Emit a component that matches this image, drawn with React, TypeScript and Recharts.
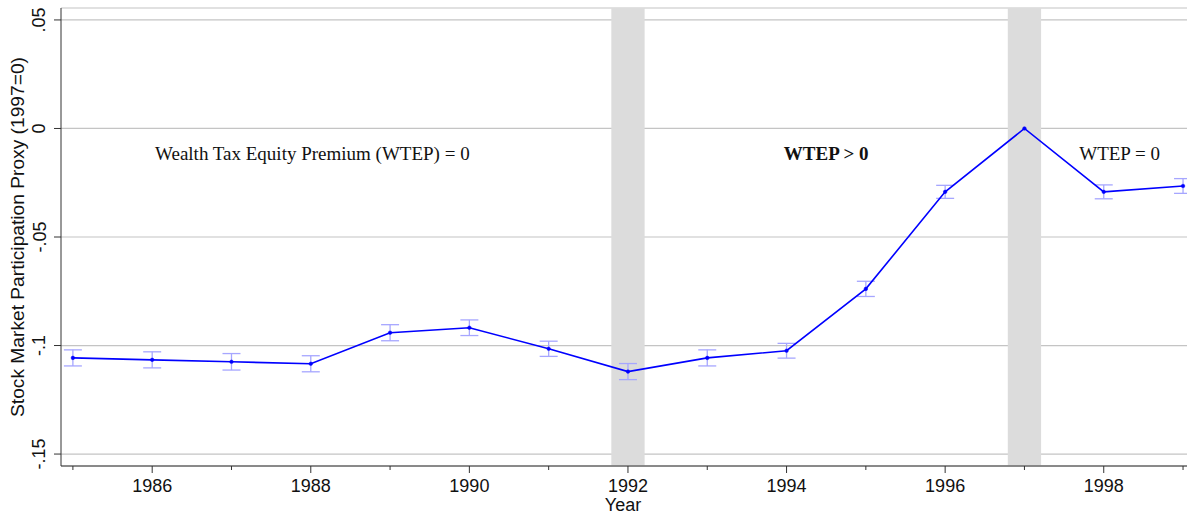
import React from 'react';
import {
  ComposedChart, Line, XAxis, YAxis, CartesianGrid, ReferenceArea, ReferenceDot, ErrorBar,
} from 'recharts';

document.body.style.margin = '0';

const years = [1985, 1986, 1987, 1988, 1989, 1990, 1991, 1992, 1993, 1994, 1995, 1996, 1997, 1998, 1999];
const proxy = [-0.1057, -0.1066, -0.1075, -0.1084, -0.0941, -0.0918, -0.1015, -0.112, -0.1057, -0.1024, -0.0739, -0.0292, 0, -0.0292, -0.0265];
const ciHalf = [0.0037, 0.0037, 0.0038, 0.0037, 0.0037, 0.0036, 0.0035, 0.0037, 0.0037, 0.0034, 0.0035, 0.003, 0, 0.0032, 0.0034];

const yTicks = [-0.15, -0.1, -0.05, 0, 0.05];
const yTickLabels = ['-.15', '-.1', '-.05', '0', '.05'];
const xTicks = years;
const shadedYears = [1992, 1997];

const notes = [
  { x: 1988.02, y: -0.0122, text: 'Wealth Tax Equity Premium (WTEP) = 0', bold: false },
  { x: 1994.5, y: -0.0122, text: 'WTEP > 0', bold: true },
  { x: 1998.2, y: -0.0122, text: 'WTEP = 0', bold: false },
];

const data = years.map((year, i) => ({ year, proxy: proxy[i], err: ciHalf[i] }));

const sans = '"Liberation Sans", Arial, Helvetica, sans-serif';
const serif = '"Liberation Serif", "Times New Roman", serif';

const XTick = (props: any) => {
  const { x, y, payload } = props;
  const major = payload.value % 2 === 0;
  return (
    <g>
      <line x1={x} x2={x} y1={y} y2={y + (major ? 7 : 4)} stroke="#333" strokeWidth={1} />
      {major && (
        <text x={x} y={y + 26} textAnchor="middle" fontFamily={sans} fontSize={18} fill="#111">
          {payload.value}
        </text>
      )}
    </g>
  );
};

const YTick = (props: any) => {
  const { x, y, payload } = props;
  const idx = yTicks.findIndex((t) => Math.abs(t - payload.value) < 1e-9);
  const tx = x - 15.5;
  return (
    <g>
      <line x1={x} x2={x - 7} y1={y} y2={y} stroke="#333" strokeWidth={1} />
      <text x={tx} y={y} transform={`rotate(-90 ${tx} ${y})`} textAnchor="middle" fontFamily={sans} fontSize={18} fill="#111">
        {idx >= 0 ? yTickLabels[idx] : ''}
      </text>
    </g>
  );
};

const YTitle = (props: any) => {
  const { viewBox } = props;
  const x = viewBox.x + 24;
  const y = viewBox.y + viewBox.height / 2;
  return (
    <text x={x} y={y} transform={`rotate(-90 ${x} ${y})`} textAnchor="middle" fontFamily={sans} fontSize={19.2} fill="#111">
      Stock Market Participation Proxy (1997=0)
    </text>
  );
};

const XTitle = (props: any) => {
  const { viewBox } = props;
  return (
    <text x={viewBox.x + viewBox.width / 2 - 1} y={viewBox.y + 45} textAnchor="middle" fontFamily={sans} fontSize={18} fill="#111">
      Year
    </text>
  );
};

const NoteLabel = (text: string, bold: boolean) => (props: any) => {
  const { viewBox } = props;
  return (
    <text x={viewBox.x} y={viewBox.y + 5} textAnchor="middle" fontFamily={serif} fontSize={19}
      fontWeight={bold ? 'bold' : 'normal'} fill="#111">
      {text}
    </text>
  );
};

export default function App() {
  return (
    <div style={{ position: 'relative', width: 1187, height: 514, background: '#fff' }}>
      <ComposedChart width={1187} height={514} data={data} margin={{ top: 8, right: 0, bottom: 18, left: 0 }}>
        <CartesianGrid vertical={false} stroke="#c4c4c4" strokeWidth={1.2} />
        {shadedYears.map((yr) => (
          <ReferenceArea key={yr} x1={yr - 0.21} x2={yr + 0.21} fill="#dcdcdc" fillOpacity={1} stroke="none" ifOverflow="visible" />
        ))}
        <XAxis dataKey="year" type="number" domain={[1984.85, 1999.05]} ticks={xTicks} interval={0} height={30}
          allowDataOverflow tick={<XTick />} tickLine={false} tickSize={0} tickMargin={0}
          axisLine={{ stroke: '#333', strokeWidth: 1 }}
          label={<XTitle />} />
        <YAxis type="number" domain={[-0.1555, 0.0555]} ticks={yTicks} interval={0} allowDataOverflow width={61}
          tick={<YTick />} tickLine={false} tickSize={0} tickMargin={0}
          axisLine={{ stroke: '#333', strokeWidth: 1 }}
          label={<YTitle />} />
        {notes.map((n) => (
          <ReferenceDot key={n.text} x={n.x} y={n.y} r={0} stroke="none" fill="none" label={NoteLabel(n.text, n.bold)} />
        ))}
        <Line dataKey="proxy" stroke="#0000ff" strokeWidth={1.6} isAnimationActive={false}
          dot={{ r: 1.8, fill: '#0000ff', stroke: '#0000ff', strokeWidth: 0.5 }} activeDot={false}>
          <ErrorBar dataKey="err" width={9} stroke="#a6a6ff" strokeWidth={1.3} direction="y" />
        </Line>
      </ComposedChart>
    </div>
  );
}
